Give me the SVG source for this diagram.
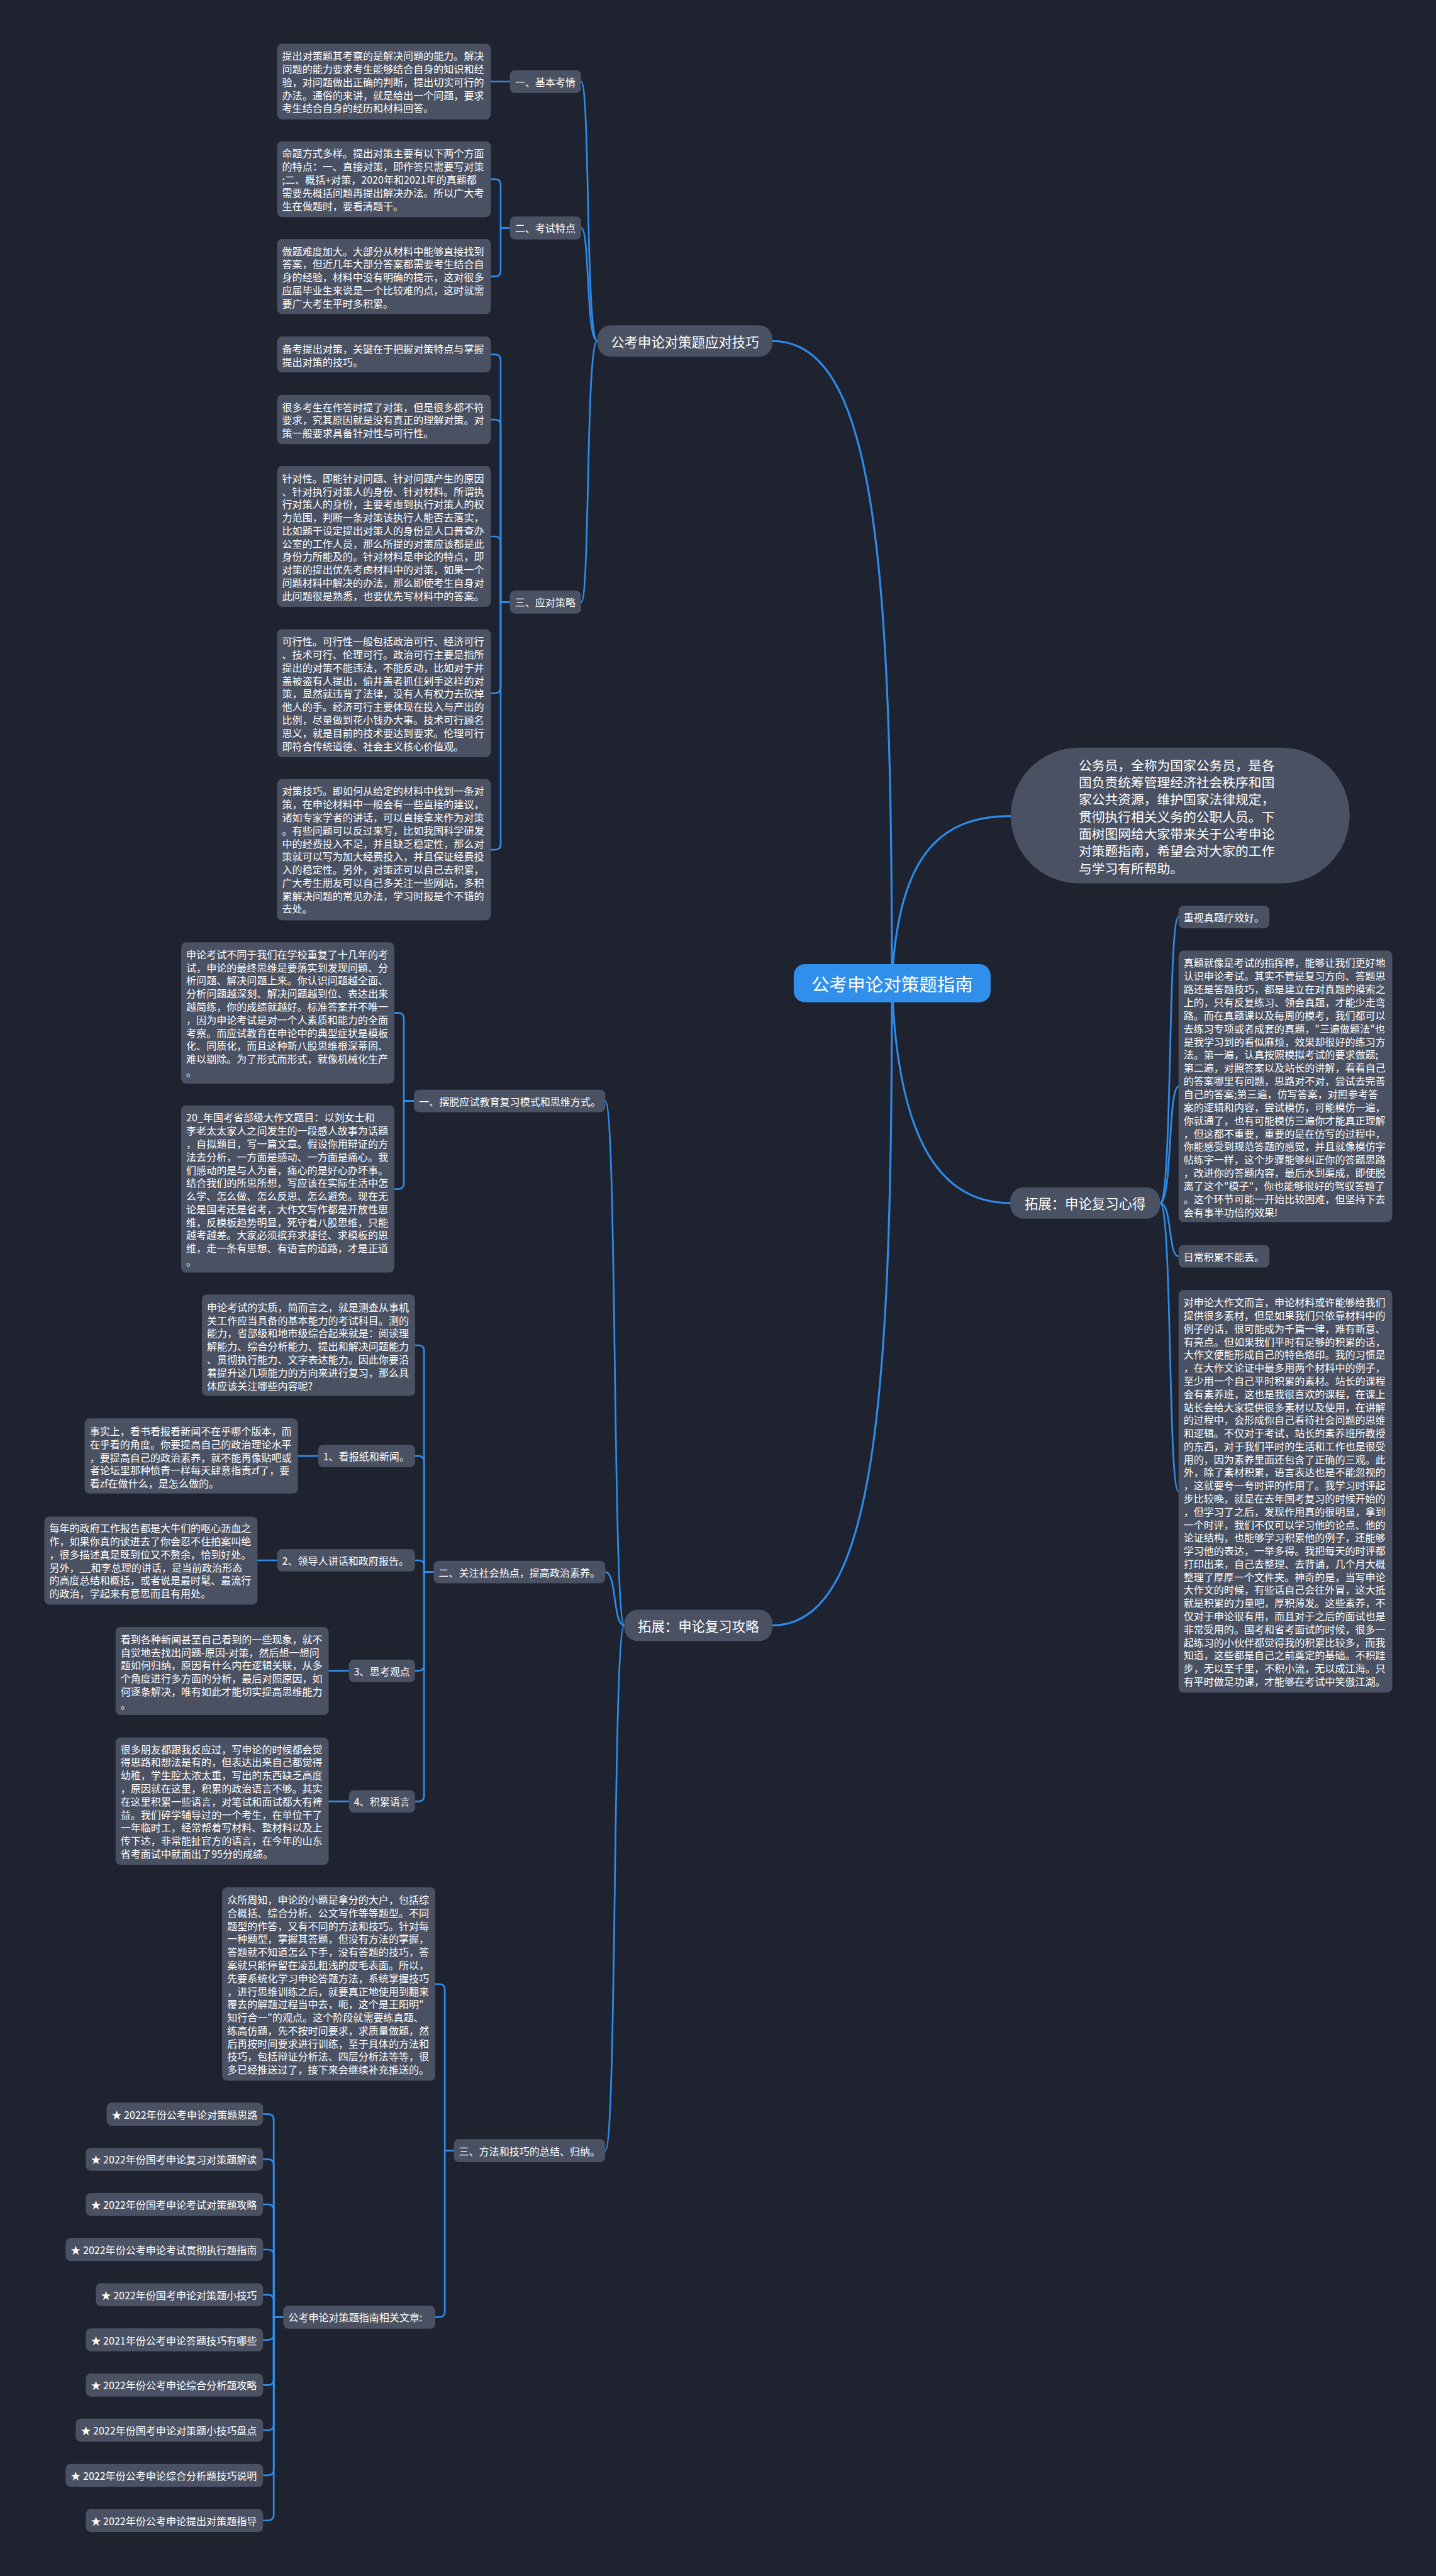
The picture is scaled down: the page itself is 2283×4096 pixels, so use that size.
<svg xmlns="http://www.w3.org/2000/svg" width="2283" height="4096" viewBox="0 0 2283 4096">
<style>
.bg{fill:#1f2330}
.bx{fill:#4a5162}
.l1{fill:#4a5162}
.root{fill:#2f8fea}
text{font-family:"Noto Sans CJK SC","Noto Sans",sans-serif;fill:#ffffff;dominant-baseline:central}
.t{font-size:18px}
.tp{font-size:23.3px}
.t1{font-size:24px;text-anchor:middle}
.tr{font-size:32px;text-anchor:middle}
.c{fill:none;stroke:#2d8ceb;stroke-width:3;stroke-linecap:round}
.cm{fill:none;stroke:#2d8ceb;stroke-width:3.5;stroke-linecap:round}
</style>
<rect class="bg" x="0" y="0" width="2283" height="4096"/>
<g transform="scale(0.891797)">
<g id="connectors">
<path class="cm" d="M1590,1753 C1590,1000 1560,608 1377,608"/>
<path class="cm" d="M1590,1753 C1590,2500 1560,2898 1377,2898"/>
<path class="cm" d="M1590,1753 C1600,1520 1680,1455 1802,1455"/>
<path class="cm" d="M1590,1753 C1600,2040 1680,2145 1801,2145"/>
<path class="c" d="M1065,608 C1044,608 1052,145.5 1036,145.5"/>
<path class="c" d="M1065,608 C1044,608 1052,406.5 1036,406.5"/>
<path class="c" d="M1065,608 C1044,608 1052,1073.5 1036,1073.5"/>
<path class="c" d="M1113,2898 C1092,2898 1100,1963 1079,1963"/>
<path class="c" d="M1113,2898 C1092,2898 1100,2803 1079,2803"/>
<path class="c" d="M1113,2898 C1092,2898 1100,3834.5 1079,3834.5"/>
<path class="c" d="M2068,2145 C2090,2145 2082,1635 2101,1635"/>
<path class="c" d="M2068,2145 C2090,2145 2082,1937 2101,1937"/>
<path class="c" d="M2068,2145 C2090,2145 2082,2240 2101,2240"/>
<path class="c" d="M2068,2145 C2090,2145 2082,2659 2101,2659"/>
<path class="c" d="M875,145.5 H909"/>
<path class="c" d="M909,406.5 H892.5 V329.5 Q892.5,319.5 882.5,319.5 H875"/>
<path class="c" d="M909,406.5 H892.5 V483 Q892.5,493 882.5,493 H875"/>
<path class="c" d="M909,1073.5 H892.5 V642 Q892.5,632 882.5,632 H875"/>
<path class="c" d="M909,1073.5 H892.5 V758 Q892.5,748 882.5,748 H875"/>
<path class="c" d="M909,1073.5 H892.5 V966.5 Q892.5,956.5 882.5,956.5 H875"/>
<path class="c" d="M909,1073.5 H892.5 V1226 Q892.5,1236 882.5,1236 H875"/>
<path class="c" d="M909,1073.5 H892.5 V1505 Q892.5,1515 882.5,1515 H875"/>
<path class="c" d="M738,1963 H720 V1816 Q720,1806 710,1806 H703"/>
<path class="c" d="M738,1963 H720 V2110 Q720,2120 710,2120 H703"/>
<path class="c" d="M773,2803 H756 V2408.5 Q756,2398.5 746,2398.5 H740"/>
<path class="c" d="M773,2803 H756 V2606 Q756,2596 746,2596 H740"/>
<path class="c" d="M773,2803 H756 V2792 Q756,2782 746,2782 H740"/>
<path class="c" d="M773,2803 H756 V2969 Q756,2979 746,2979 H740"/>
<path class="c" d="M773,2803 H756 V3202 Q756,3212 746,3212 H740"/>
<path class="c" d="M531,2596 H567"/>
<path class="c" d="M459,2782 H494"/>
<path class="c" d="M586,2979 H622"/>
<path class="c" d="M586,3212 H622"/>
<path class="c" d="M809,3834.5 H793 V3547.5 Q793,3537.5 783,3537.5 H776"/>
<path class="c" d="M809,3834.5 H793 V4121.5 Q793,4131.5 783,4131.5 H776"/>
<path class="c" d="M505,4131.5 H488 V3779.5 Q488,3769.5 478,3769.5 H469"/>
<path class="c" d="M505,4131.5 H488 V3860 Q488,3850 478,3850 H469"/>
<path class="c" d="M505,4131.5 H488 V3940.5 Q488,3930.5 478,3930.5 H469"/>
<path class="c" d="M505,4131.5 H488 V4021 Q488,4011 478,4011 H469"/>
<path class="c" d="M505,4131.5 H488 V4101.5 Q488,4091.5 478,4091.5 H469"/>
<path class="c" d="M505,4131.5 H488 V4162 Q488,4172 478,4172 H469"/>
<path class="c" d="M505,4131.5 H488 V4242.5 Q488,4252.5 478,4252.5 H469"/>
<path class="c" d="M505,4131.5 H488 V4323 Q488,4333 478,4333 H469"/>
<path class="c" d="M505,4131.5 H488 V4403.5 Q488,4413.5 478,4413.5 H469"/>
<path class="c" d="M505,4131.5 H488 V4484 Q488,4494 478,4494 H469"/>
</g>

<g id="root"><rect class="root" x="1415" y="1719" width="351" height="68" rx="20"/><text class="tr" x="1590.5" y="1753">公考申论对策题指南</text></g>
<g id="n1"><rect class="l1" x="1065" y="580" width="312" height="56" rx="24"/><text class="t1" x="1221" y="608">公考申论对策题应对技巧</text></g>
<g id="n2"><rect class="l1" x="1113" y="2870" width="264" height="56" rx="24"/><text class="t1" x="1245" y="2898">拓展：申论复习攻略</text></g>
<g id="n3"><rect class="l1" x="1801" y="2117" width="267" height="56" rx="24"/><text class="t1" x="1934.5" y="2145">拓展：申论复习心得</text></g>

<g id="intro"><rect class="bx" x="1802" y="1333" width="604" height="242" rx="121"/>
<text class="tp"><tspan x="1923" y="1363">公务员，全称为国家公务员，是各</tspan><tspan x="1923" y="1393.7">国负责统筹管理经济社会秩序和国</tspan><tspan x="1923" y="1424.4">家公共资源，维护国家法律规定，</tspan><tspan x="1923" y="1455.1">贯彻执行相关义务的公职人员。下</tspan><tspan x="1923" y="1485.8">面树图网给大家带来关于公考申论</tspan><tspan x="1923" y="1516.5">对策题指南，希望会对大家的工作</tspan><tspan x="1923" y="1547.2">与学习有所帮助。</tspan></text></g>

<g id="lab-jbkq"><rect class="bx" x="909" y="125" width="127" height="41" rx="9"/><text class="t" x="918" y="145.5">一、基本考情</text></g>
<g id="lab-kstd"><rect class="bx" x="909" y="386" width="127" height="41" rx="9"/><text class="t" x="918" y="406.5">二、考试特点</text></g>
<g id="lab-ydcl"><rect class="bx" x="909" y="1053" width="127" height="41" rx="9"/><text class="t" x="918" y="1073.5">三、应对策略</text></g>

<g id="b1"><rect class="bx" x="494" y="78" width="381" height="135" rx="9"/>
<text class="t"><tspan x="503" y="99">提出对策题其考察的是解决问题的能力。解决</tspan><tspan x="503" y="122.3">问题的能力要求考生能够结合自身的知识和经</tspan><tspan x="503" y="145.6">验，对问题做出正确的判断，提出切实可行的</tspan><tspan x="503" y="168.9">办法。通俗的来讲，就是给出一个问题，要求</tspan><tspan x="503" y="192.2">考生结合自身的经历和材料回答。</tspan></text></g>
<g id="b2"><rect class="bx" x="494" y="252" width="381" height="135" rx="9"/>
<text class="t"><tspan x="503" y="273">命题方式多样。提出对策主要有以下两个方面</tspan><tspan x="503" y="296.3">的特点：一、直接对策，即作答只需要写对策</tspan><tspan x="503" y="319.6">;二、概括+对策，2020年和2021年的真题都</tspan><tspan x="503" y="342.9">需要先概括问题再提出解决办法。所以广大考</tspan><tspan x="503" y="366.2">生在做题时，要看清题干。</tspan></text></g>
<g id="b3"><rect class="bx" x="494" y="426" width="381" height="134" rx="9"/>
<text class="t"><tspan x="503" y="447">做题难度加大。大部分从材料中能够直接找到</tspan><tspan x="503" y="470.3">答案，但近几年大部分答案都需要考生结合自</tspan><tspan x="503" y="493.6">身的经验，材料中没有明确的提示，这对很多</tspan><tspan x="503" y="516.9">应届毕业生来说是一个比较难的点，这时就需</tspan><tspan x="503" y="540.2">要广大考生平时多积累。</tspan></text></g>
<g id="b4"><rect class="bx" x="494" y="600" width="381" height="64" rx="9"/>
<text class="t"><tspan x="503" y="621">备考提出对策，关键在于把握对策特点与掌握</tspan><tspan x="503" y="644.3">提出对策的技巧。</tspan></text></g>
<g id="b5"><rect class="bx" x="494" y="704" width="381" height="88" rx="9"/>
<text class="t"><tspan x="503" y="725">很多考生在作答时提了对策，但是很多都不符</tspan><tspan x="503" y="748.3">要求，究其原因就是没有真正的理解对策。对</tspan><tspan x="503" y="771.6">策一般要求具备针对性与可行性。</tspan></text></g>
<g id="b6"><rect class="bx" x="494" y="831" width="381" height="251" rx="9"/>
<text class="t"><tspan x="503" y="852">针对性。即能针对问题、针对问题产生的原因</tspan><tspan x="503" y="875.3">、针对执行对策人的身份、针对材料。所谓执</tspan><tspan x="503" y="898.6">行对策人的身份，主要考虑到执行对策人的权</tspan><tspan x="503" y="921.9">力范围，判断一条对策该执行人能否去落实，</tspan><tspan x="503" y="945.2">比如题干设定提出对策人的身份是人口普查办</tspan><tspan x="503" y="968.5">公室的工作人员，那么所提的对策应该都是此</tspan><tspan x="503" y="991.8">身份力所能及的。针对材料是申论的特点，即</tspan><tspan x="503" y="1015.1">对策的提出优先考虑材料中的对策，如果一个</tspan><tspan x="503" y="1038.4">问题材料中解决的办法，那么即使考生自身对</tspan><tspan x="503" y="1061.7">此问题很是熟悉，也要优先写材料中的答案。</tspan></text></g>
<g id="b7"><rect class="bx" x="494" y="1122" width="381" height="228" rx="9"/>
<text class="t"><tspan x="503" y="1143">可行性。可行性一般包括政治可行、经济可行</tspan><tspan x="503" y="1166.3">、技术可行、伦理可行。政治可行主要是指所</tspan><tspan x="503" y="1189.6">提出的对策不能违法，不能反动，比如对于井</tspan><tspan x="503" y="1212.9">盖被盗有人提出，偷井盖者抓住剁手这样的对</tspan><tspan x="503" y="1236.2">策，显然就违背了法律，没有人有权力去砍掉</tspan><tspan x="503" y="1259.5">他人的手。经济可行主要体现在投入与产出的</tspan><tspan x="503" y="1282.8">比例，尽量做到花小钱办大事。技术可行顾名</tspan><tspan x="503" y="1306.1">思义，就是目前的技术要达到要求。伦理可行</tspan><tspan x="503" y="1329.4">即符合传统道德、社会主义核心价值观。</tspan></text></g>
<g id="b8"><rect class="bx" x="494" y="1389" width="381" height="252" rx="9"/>
<text class="t"><tspan x="503" y="1410">对策技巧。即如何从给定的材料中找到一条对</tspan><tspan x="503" y="1433.3">策，在申论材料中一般会有一些直接的建议，</tspan><tspan x="503" y="1456.6">诸如专家学者的讲话，可以直接拿来作为对策</tspan><tspan x="503" y="1479.9">。有些问题可以反过来写，比如我国科学研发</tspan><tspan x="503" y="1503.2">中的经费投入不足，并且缺乏稳定性，那么对</tspan><tspan x="503" y="1526.5">策就可以写为加大经费投入，并且保证经费投</tspan><tspan x="503" y="1549.8">入的稳定性。另外，对策还可以自己去积累，</tspan><tspan x="503" y="1573.1">广大考生朋友可以自己多关注一些网站，多积</tspan><tspan x="503" y="1596.4">累解决问题的常见办法，学习时报是个不错的</tspan><tspan x="503" y="1619.7">去处。</tspan></text></g>

<g id="r1"><rect class="bx" x="2101" y="1615" width="162" height="40" rx="9"/><text class="t" x="2110" y="1635">重视真题疗效好。</text></g>
<g id="r2"><rect class="bx" x="2101" y="1695" width="381" height="484" rx="9"/>
<text class="t"><tspan x="2110" y="1716">真题就像是考试的指挥棒，能够让我们更好地</tspan><tspan x="2110" y="1739.4">认识申论考试。其实不管是复习方向、答题思</tspan><tspan x="2110" y="1762.8">路还是答题技巧，都是建立在对真题的摸索之</tspan><tspan x="2110" y="1786.2">上的，只有反复练习、领会真题，才能少走弯</tspan><tspan x="2110" y="1809.6">路。而在真题课以及每周的模考，我们都可以</tspan><tspan x="2110" y="1833">去练习专项或者成套的真题，"三遍做题法"也</tspan><tspan x="2110" y="1856.4">是我学习到的看似麻烦，效果却很好的练习方</tspan><tspan x="2110" y="1879.8">法。第一遍，认真按照模拟考试的要求做题;</tspan><tspan x="2110" y="1903.2">第二遍，对照答案以及站长的讲解，看看自己</tspan><tspan x="2110" y="1926.6">的答案哪里有问题，思路对不对，尝试去完善</tspan><tspan x="2110" y="1950">自己的答案;第三遍，仿写答案，对照参考答</tspan><tspan x="2110" y="1973.4">案的逻辑和内容，尝试模仿，可能模仿一遍，</tspan><tspan x="2110" y="1996.8">你就通了，也有可能模仿三遍你才能真正理解</tspan><tspan x="2110" y="2020.2">，但这都不重要，重要的是在仿写的过程中，</tspan><tspan x="2110" y="2043.6">你能感受到规范答题的感觉，并且就像模仿字</tspan><tspan x="2110" y="2067">帖练字一样，这个步骤能够纠正你的答题思路</tspan><tspan x="2110" y="2090.4">，改进你的答题内容，最后水到渠成，即使脱</tspan><tspan x="2110" y="2113.8">离了这个"模子"，你也能够很好的驾驭答题了</tspan><tspan x="2110" y="2137.2">。这个环节可能一开始比较困难，但坚持下去</tspan><tspan x="2110" y="2160.6">会有事半功倍的效果!</tspan></text></g>
<g id="r3"><rect class="bx" x="2101" y="2220" width="162" height="40" rx="9"/><text class="t" x="2110" y="2240">日常积累不能丢。</text></g>
<g id="r4"><rect class="bx" x="2101" y="2300" width="381" height="718" rx="9"/>
<text class="t"><tspan x="2110" y="2321.5">对申论大作文而言，申论材料或许能够给我们</tspan><tspan x="2110" y="2344.8">提供很多素材，但是如果我们只依靠材料中的</tspan><tspan x="2110" y="2368.1">例子的话，很可能成为千篇一律，难有新意、</tspan><tspan x="2110" y="2391.4">有亮点。但如果我们平时有足够的积累的话，</tspan><tspan x="2110" y="2414.7">大作文便能形成自己的特色烙印。我的习惯是</tspan><tspan x="2110" y="2438">，在大作文论证中最多用两个材料中的例子，</tspan><tspan x="2110" y="2461.3">至少用一个自己平时积累的素材。站长的课程</tspan><tspan x="2110" y="2484.6">会有素养班，这也是我很喜欢的课程，在课上</tspan><tspan x="2110" y="2507.9">站长会给大家提供很多素材以及使用，在讲解</tspan><tspan x="2110" y="2531.2">的过程中，会形成你自己看待社会问题的思维</tspan><tspan x="2110" y="2554.5">和逻辑。不仅对于考试，站长的素养班所教授</tspan><tspan x="2110" y="2577.8">的东西，对于我们平时的生活和工作也是很受</tspan><tspan x="2110" y="2601.1">用的，因为素养里面还包含了正确的三观。此</tspan><tspan x="2110" y="2624.4">外，除了素材积累，语言表达也是不能忽视的</tspan><tspan x="2110" y="2647.7">，这就要夸一夸时评的作用了。我学习时评起</tspan><tspan x="2110" y="2671">步比较晚，就是在去年国考复习的时候开始的</tspan><tspan x="2110" y="2694.3">，但学习了之后，发现作用真的很明显，拿到</tspan><tspan x="2110" y="2717.6">一个时评，我们不仅可以学习他的论点、他的</tspan><tspan x="2110" y="2740.9">论证结构，也能够学习积累他的例子，还能够</tspan><tspan x="2110" y="2764.2">学习他的表达，一举多得。我把每天的时评都</tspan><tspan x="2110" y="2787.5">打印出来，自己去整理、去背诵，几个月大概</tspan><tspan x="2110" y="2810.8">整理了厚厚一个文件夹。神奇的是，当写申论</tspan><tspan x="2110" y="2834.1">大作文的时候，有些话自己会往外冒，这大抵</tspan><tspan x="2110" y="2857.4">就是积累的力量吧，厚积薄发。这些素养，不</tspan><tspan x="2110" y="2880.7">仅对于申论很有用，而且对于之后的面试也是</tspan><tspan x="2110" y="2904">非常受用的。国考和省考面试的时候，很多一</tspan><tspan x="2110" y="2927.3">起练习的小伙伴都觉得我的积累比较多，而我</tspan><tspan x="2110" y="2950.6">知道，这些都是自己之前奠定的基础。不积跬</tspan><tspan x="2110" y="2973.9">步，无以至千里，不积小流，无以成江海。只</tspan><tspan x="2110" y="2997.2">有平时做足功课，才能够在考试中笑傲江湖。</tspan></text></g>

<g id="lab-bt"><rect class="bx" x="738" y="1943" width="341" height="40" rx="9"/><text class="t" x="747" y="1963">一、摆脱应试教育复习模式和思维方式。</text></g>
<g id="lab-gz"><rect class="bx" x="773" y="2783" width="306" height="40" rx="9"/><text class="t" x="782" y="2803">二、关注社会热点，提高政治素养。</text></g>
<g id="lab-ff"><rect class="bx" x="809" y="3814" width="270" height="41" rx="9"/><text class="t" x="818" y="3834.5">三、方法和技巧的总结、归纳。</text></g>
<g id="lab-1"><rect class="bx" x="567" y="2576" width="173" height="40" rx="9"/><text class="t" x="576" y="2596">1、看报纸和新闻。</text></g>
<g id="lab-2"><rect class="bx" x="494" y="2762" width="246" height="40" rx="9"/><text class="t" x="503" y="2782">2、领导人讲话和政府报告。</text></g>
<g id="lab-3"><rect class="bx" x="622" y="2959" width="118" height="40" rx="9"/><text class="t" x="631" y="2979">3、思考观点</text></g>
<g id="lab-4"><rect class="bx" x="622" y="3192" width="118" height="40" rx="9"/><text class="t" x="631" y="3212">4、积累语言</text></g>
<g id="lab-xg"><rect class="bx" x="505" y="4111" width="271" height="41" rx="9"/><text class="t" x="514" y="4131.5">公考申论对策题指南相关文章:</text></g>

<g id="bA"><rect class="bx" x="323" y="1680" width="380" height="252" rx="9"/>
<text class="t"><tspan x="332" y="1701">申论考试不同于我们在学校重复了十几年的考</tspan><tspan x="332" y="1724.3">试，申论的最终思维是要落实到发现问题、分</tspan><tspan x="332" y="1747.6">析问题、解决问题上来。你认识问题越全面、</tspan><tspan x="332" y="1770.9">分析问题越深刻、解决问题越到位、表达出来</tspan><tspan x="332" y="1794.2">越简练，你的成绩就越好。标准答案并不唯一</tspan><tspan x="332" y="1817.5">，因为申论考试是对一个人素质和能力的全面</tspan><tspan x="332" y="1840.8">考察。而应试教育在申论中的典型症状是模板</tspan><tspan x="332" y="1864.1">化、同质化，而且这种新八股思维根深蒂固、</tspan><tspan x="332" y="1887.4">难以剔除。为了形式而形式，就像机械化生产</tspan><tspan x="332" y="1910.7">。</tspan></text></g>
<g id="bB"><rect class="bx" x="323" y="1971" width="380" height="298" rx="9"/>
<text class="t"><tspan x="332" y="1992">20_年国考省部级大作文题目：以刘女士和</tspan><tspan x="332" y="2015.3">李老太太家人之间发生的一段感人故事为话题</tspan><tspan x="332" y="2038.6">，自拟题目，写一篇文章。假设你用辩证的方</tspan><tspan x="332" y="2061.9">法去分析，一方面是感动、一方面是痛心。我</tspan><tspan x="332" y="2085.2">们感动的是与人为善，痛心的是好心办坏事。</tspan><tspan x="332" y="2108.5">结合我们的所思所想，写应该在实际生活中怎</tspan><tspan x="332" y="2131.8">么学、怎么做、怎么反思、怎么避免。现在无</tspan><tspan x="332" y="2155.1">论是国考还是省考，大作文写作都是开放性思</tspan><tspan x="332" y="2178.4">维，反模板趋势明显，死守着八股思维，只能</tspan><tspan x="332" y="2201.7">越考越差。大家必须摈弃求捷径、求模板的思</tspan><tspan x="332" y="2225">维，走一条有思想、有语言的道路，才是正道</tspan><tspan x="332" y="2248.3">。</tspan></text></g>
<g id="bC"><rect class="bx" x="360" y="2308" width="380" height="181" rx="9"/>
<text class="t"><tspan x="369" y="2330">申论考试的实质，简而言之，就是测查从事机</tspan><tspan x="369" y="2353.3">关工作应当具备的基本能力的考试科目。测的</tspan><tspan x="369" y="2376.6">能力，省部级和地市级综合起来就是：阅读理</tspan><tspan x="369" y="2399.9">解能力、综合分析能力、提出和解决问题能力</tspan><tspan x="369" y="2423.2">、贯彻执行能力、文字表达能力。因此你要沿</tspan><tspan x="369" y="2446.5">着提升这几项能力的方向来进行复习，那么具</tspan><tspan x="369" y="2469.8">体应该关注哪些内容呢?</tspan></text></g>
<g id="bD"><rect class="bx" x="151" y="2529" width="380" height="134" rx="9"/>
<text class="t"><tspan x="160" y="2551">事实上，看书看报看新闻不在乎哪个版本，而</tspan><tspan x="160" y="2574.3">在乎看的角度。你要提高自己的政治理论水平</tspan><tspan x="160" y="2597.6">，要提高自己的政治素养，就不能再像贴吧或</tspan><tspan x="160" y="2620.9">者论坛里那种愤青一样每天肆意指责zf了，要</tspan><tspan x="160" y="2644.2">看zf在做什么，是怎么做的。</tspan></text></g>
<g id="bE"><rect class="bx" x="79" y="2704" width="380" height="157" rx="9"/>
<text class="t"><tspan x="88" y="2724">每年的政府工作报告都是大牛们的呕心沥血之</tspan><tspan x="88" y="2747.3">作，如果你真的读进去了你会忍不住拍案叫绝</tspan><tspan x="88" y="2770.6">，很多描述真是既到位又不赘余，恰到好处。</tspan><tspan x="88" y="2793.9">另外，__和李总理的讲话，是当前政治形态</tspan><tspan x="88" y="2817.2">的高度总结和概括，或者说是最时髦、最流行</tspan><tspan x="88" y="2840.5">的政治，学起来有意思而且有用处。</tspan></text></g>
<g id="bF"><rect class="bx" x="206" y="2901" width="380" height="157" rx="9"/>
<text class="t"><tspan x="215" y="2922">看到各种新闻甚至自己看到的一些现象，就不</tspan><tspan x="215" y="2945.3">自觉地去找出问题-原因-对策，然后想一想问</tspan><tspan x="215" y="2968.6">题如何归纳，原因有什么内在逻辑关联，从多</tspan><tspan x="215" y="2991.9">个角度进行多方面的分析，最后对照原因，如</tspan><tspan x="215" y="3015.2">何逐条解决，唯有如此才能切实提高思维能力</tspan><tspan x="215" y="3038.5">。</tspan></text></g>
<g id="bG"><rect class="bx" x="206" y="3098" width="380" height="227" rx="9"/>
<text class="t"><tspan x="215" y="3118">很多朋友都跟我反应过，写申论的时候都会觉</tspan><tspan x="215" y="3141.3">得思路和想法是有的，但表达出来自己都觉得</tspan><tspan x="215" y="3164.6">幼稚，学生腔太浓太重，写出的东西缺乏高度</tspan><tspan x="215" y="3187.9">，原因就在这里，积累的政治语言不够。其实</tspan><tspan x="215" y="3211.2">在这里积累一些语言，对笔试和面试都大有裨</tspan><tspan x="215" y="3234.5">益。我们碎学辅导过的一个考生，在单位干了</tspan><tspan x="215" y="3257.8">一年临时工，经常帮着写材料、整材料以及上</tspan><tspan x="215" y="3281.1">传下达，非常能扯官方的语言，在今年的山东</tspan><tspan x="215" y="3304.4">省考面试中就面出了95分的成绩。</tspan></text></g>
<g id="bH"><rect class="bx" x="396" y="3365" width="380" height="345" rx="9"/>
<text class="t"><tspan x="405" y="3386.5">众所周知，申论的小题是拿分的大户，包括综</tspan><tspan x="405" y="3409.8">合概括、综合分析、公文写作等等题型。不同</tspan><tspan x="405" y="3433.1">题型的作答，又有不同的方法和技巧。针对每</tspan><tspan x="405" y="3456.4">一种题型，掌握其答题，但没有方法的掌握，</tspan><tspan x="405" y="3479.7">答题就不知道怎么下手，没有答题的技巧，答</tspan><tspan x="405" y="3503">案就只能停留在凌乱粗浅的皮毛表面。所以，</tspan><tspan x="405" y="3526.3">先要系统化学习申论答题方法，系统掌握技巧</tspan><tspan x="405" y="3549.6">，进行思维训练之后，就要真正地使用到翻来</tspan><tspan x="405" y="3572.9">覆去的解题过程当中去，呃，这个是王阳明"</tspan><tspan x="405" y="3596.2">知行合一"的观点。这个阶段就需要练真题、</tspan><tspan x="405" y="3619.5">练高仿题，先不按时间要求，求质量做题，然</tspan><tspan x="405" y="3642.8">后再按时间要求进行训练，至于具体的方法和</tspan><tspan x="405" y="3666.1">技巧，包括辩证分析法、四层分析法等等，很</tspan><tspan x="405" y="3689.4">多已经推送过了，接下来会继续补充推送的。</tspan></text></g>

<g id="s1"><rect class="bx" x="190" y="3749" width="279" height="41" rx="9"/><text class="t" x="199" y="3769.5">★ 2022年份公考申论对策题思路</text></g>
<g id="s2"><rect class="bx" x="153" y="3829.5" width="316" height="41" rx="9"/><text class="t" x="162" y="3850">★ 2022年份国考申论复习对策题解读</text></g>
<g id="s3"><rect class="bx" x="153" y="3910" width="316" height="41" rx="9"/><text class="t" x="162" y="3930.5">★ 2022年份国考申论考试对策题攻略</text></g>
<g id="s4"><rect class="bx" x="117" y="3990.5" width="352" height="41" rx="9"/><text class="t" x="126" y="4011">★ 2022年份公考申论考试贯彻执行题指南</text></g>
<g id="s5"><rect class="bx" x="171" y="4071" width="298" height="41" rx="9"/><text class="t" x="180" y="4091.5">★ 2022年份国考申论对策题小技巧</text></g>
<g id="s6"><rect class="bx" x="153" y="4151.5" width="316" height="41" rx="9"/><text class="t" x="162" y="4172">★ 2021年份公考申论答题技巧有哪些</text></g>
<g id="s7"><rect class="bx" x="153" y="4232" width="316" height="41" rx="9"/><text class="t" x="162" y="4252.5">★ 2022年份公考申论综合分析题攻略</text></g>
<g id="s8"><rect class="bx" x="135" y="4312.5" width="334" height="41" rx="9"/><text class="t" x="144" y="4333">★ 2022年份国考申论对策题小技巧盘点</text></g>
<g id="s9"><rect class="bx" x="117" y="4393" width="352" height="41" rx="9"/><text class="t" x="126" y="4413.5">★ 2022年份公考申论综合分析题技巧说明</text></g>
<g id="s10"><rect class="bx" x="153" y="4473.5" width="316" height="41" rx="9"/><text class="t" x="162" y="4494">★ 2022年份公考申论提出对策题指导</text></g>
</g>
</svg>
